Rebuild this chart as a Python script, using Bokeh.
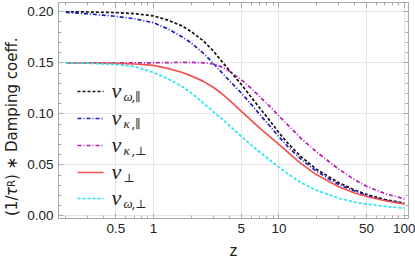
from bokeh.plotting import figure
from bokeh.layouts import row
from bokeh.models import (FixedTicker, LinearAxis, LogAxis, Label, Arrow, Div,
                          CustomJSTickFormatter)
from bokeh.embed import file_html
from bokeh.resources import INLINE

# ---- data ----
z = [0.2, 0.3, 0.5, 0.7, 1, 1.3, 1.7, 2, 2.5, 3, 3.5, 4, 5, 6, 7, 8.5,
     10, 12, 15, 20, 30, 40, 50, 70, 100]
nu_omega_par = [0.2000, 0.1998, 0.1992, 0.1982, 0.1960, 0.1918, 0.1860, 0.1805,
                0.1715, 0.1615, 0.1515, 0.1430, 0.1290, 0.1165, 0.1060, 0.0930,
                0.0815, 0.0700, 0.0580, 0.0455, 0.0325, 0.0255, 0.0210, 0.0160, 0.0125]
nu_kappa_par = [0.1995, 0.1980, 0.1955, 0.1932, 0.1893, 0.1833, 0.1752, 0.1695,
                0.1592, 0.1495, 0.1405, 0.1330, 0.1205, 0.1095, 0.0995, 0.0878,
                0.0775, 0.0668, 0.0555, 0.0435, 0.0308, 0.0243, 0.0200, 0.0153, 0.0120]
nu_kappa_perp = [0.1500, 0.1500, 0.1500, 0.1500, 0.1500, 0.1502, 0.1504, 0.1504,
                 0.1500, 0.1488, 0.1460, 0.1420, 0.1335, 0.1250, 0.1170, 0.1070,
                 0.0980, 0.0880, 0.0760, 0.0625, 0.0458, 0.0355, 0.0290, 0.0218, 0.0167]
nu_perp = [0.1500, 0.1499, 0.1495, 0.1488, 0.1475, 0.1445, 0.1405, 0.1372,
           0.1318, 0.1260, 0.1197, 0.1136, 0.1027, 0.0937, 0.0863, 0.0775,
           0.0700, 0.0615, 0.0512, 0.0402, 0.0286, 0.0224, 0.0190, 0.0148, 0.0118]
nu_omega_perp = [0.1500, 0.1496, 0.1484, 0.1465, 0.1405, 0.1345, 0.1265, 0.1205,
                 0.1105, 0.1020, 0.0950, 0.0888, 0.0780, 0.0695, 0.0628, 0.0545,
                 0.0478, 0.0405, 0.0325, 0.0250, 0.0173, 0.0135, 0.0115, 0.0092, 0.0075]

x_ticks = [0.5, 1, 5, 10, 50, 100]
x_tick_labels = ["0.5", "1", "5", "10", "50", "100"]
x_minor = [0.2, 0.3, 0.4, 0.6, 0.7, 0.8, 0.9, 2, 3, 4, 6, 7, 8, 9,
           20, 30, 40, 60, 70, 80, 90]
y_ticks = [0.0, 0.05, 0.10, 0.15, 0.20]
y_tick_labels = ["0.00", "0.05", "0.10", "0.15", "0.20"]
y_minor = [0.00, 0.01, 0.02, 0.03, 0.04, 0.05, 0.06, 0.07, 0.08, 0.09, 0.10,
           0.11, 0.12, 0.13, 0.14, 0.15, 0.16, 0.17, 0.18, 0.19, 0.20]

# legend: (italic greek part of subscript, upright part of subscript)
legend_sub = [("ω", ",∥"), ("κ", ",∥"), ("κ", ",⊥"), ("", "⊥"), ("ω", ",⊥")]

series = [nu_omega_par, nu_kappa_par, nu_kappa_perp, nu_perp, nu_omega_perp]
colors = ["#111111", "#1c1cc0", "#b41ab4", "#f25252", "#22e4f0"]
dashes = ["3 2", "4 2 1 2", "4 2 1 2", "solid", "3 2"]

FRAME = "#a8a8a8"
TXT = "#222222"
LAB_W = 24

p = figure(width=415 - LAB_W, height=264, x_axis_type="log",
           x_range=(0.1747, 108.0), y_range=(-0.0026, 0.2091),
           output_backend="svg", toolbar_location=None,
           min_border_left=58 - LAB_W, min_border_right=7, min_border_top=2,
           min_border_bottom=46)
p.background_fill_color = "white"
p.outline_line_color = FRAME

xt = FixedTicker(ticks=x_ticks, minor_ticks=x_minor)
yt = FixedTicker(ticks=y_ticks, minor_ticks=y_minor)
blank = CustomJSTickFormatter(code="return ''")

def style(ax):
    ax.axis_line_color = FRAME
    ax.major_tick_line_color = FRAME
    ax.minor_tick_line_color = FRAME
    ax.major_tick_in = 5
    ax.major_tick_out = 0
    ax.minor_tick_in = 3
    ax.minor_tick_out = 0
    ax.major_label_text_color = TXT
    ax.major_label_text_font = "Liberation Sans"
    ax.major_label_text_font_size = "13.5px"

xa = p.xaxis[0]
xa.ticker = xt
xa.major_label_overrides = {t: l for t, l in zip(x_ticks, x_tick_labels)}
xa.axis_label = "z"
xa.axis_label_text_font = "Liberation Sans"
xa.axis_label_text_font_size = "16px"
xa.axis_label_text_font_style = "normal"
xa.axis_label_text_color = TXT
xa.axis_label_standoff = 6
xa.major_label_standoff = 5
style(xa)

ya = p.yaxis[0]
ya.ticker = yt
ya.major_label_overrides = {t: l for t, l in zip(y_ticks, y_tick_labels)}
ya.major_label_standoff = 5
style(ya)

top = LogAxis(ticker=xt, formatter=blank, major_label_standoff=0)
style(top)
p.add_layout(top, "above")
right = LinearAxis(ticker=yt, formatter=blank, major_label_standoff=0)
style(right)
p.add_layout(right, "right")

p.xgrid.ticker = xt
p.ygrid.ticker = yt
p.grid.grid_line_color = "#e6e6e6"
p.grid.grid_line_width = 1

for vals, c, d in zip(series, colors, dashes):
    p.line(z, vals, line_color=c, line_width=1.7, line_dash=d)

# ---- legend (drawn by hand, screen units relative to frame) ----
rows = [127, 100, 73, 46, 20]
for (g, up), c, d, yy in zip(legend_sub, colors, dashes, rows):
    p.add_layout(Arrow(end=None, start_units="screen", end_units="screen",
                       x_start=19, y_start=yy, x_end=45, y_end=yy,
                       line_color=c, line_width=1.7, line_dash=d))
    p.add_layout(Label(x=53, y=yy + 1, x_units="screen", y_units="screen",
                       text="ν", text_font="Liberation Serif",
                       text_font_style="italic", text_font_size="22px",
                       text_color=TXT, text_baseline="middle"))
    xs = 65
    if g:
        p.add_layout(Label(x=xs, y=yy - 5, x_units="screen", y_units="screen",
                           text=g, text_font="Liberation Serif",
                           text_font_style="italic", text_font_size="13px",
                           text_color=TXT, text_baseline="middle"))
        xs += 8
    p.add_layout(Label(x=xs, y=yy - 5, x_units="screen", y_units="screen",
                       text=up, text_font="DejaVu Serif",
                       text_font_size="12px",
                       text_color=TXT, text_baseline="middle"))

# ---- y axis label: rotated HTML text with a real subscript ----
ylabel_html = (
    '<div style="box-sizing:border-box;width:24px;height:254px;display:flex;'
    'align-items:center;justify-content:center;writing-mode:vertical-rl;'
    'transform:rotate(180deg);white-space:nowrap;'
    "font-family:'DejaVu Sans';font-size:15px;color:#222222;line-height:1;\">"
    '(1/<i>τ</i><sub style="font-size:10px">R</sub>) ∗ Damping coeff.</div>'
)
ylab = Div(text=ylabel_html, width=LAB_W, height=264, margin=(0, 0, 0, 0))

layout = row(ylab, p, spacing=0)
open("out.html", "w").write(file_html(layout, INLINE))
